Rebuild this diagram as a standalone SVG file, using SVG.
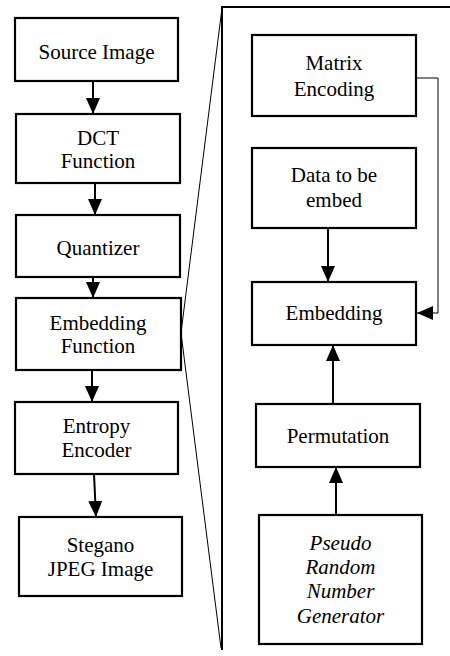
<svg xmlns="http://www.w3.org/2000/svg" width="450" height="656" viewBox="0 0 450 656">
<style>
.box{fill:#fff;stroke:#000;stroke-width:2.2}
.t{font-family:"Liberation Serif","Times New Roman","DejaVu Serif",serif;font-size:21px;fill:#000;text-anchor:middle}
.i{font-style:italic}
.c{fill:none;stroke:#000;stroke-width:2}
.thin{fill:none;stroke:#000;stroke-width:1}
</style>
<defs>
<marker id="ah" markerUnits="userSpaceOnUse" markerWidth="16" markerHeight="16" viewBox="0 0 16 14" refX="16" refY="7" orient="auto">
<path d="M0,0 L16,7 L0,14 Z" fill="#000"/>
</marker>
</defs>
<g id="frame">
<path class="thin" d="M450,7 L222,7 L222,650" style="stroke-width:2"/>
<path class="thin" d="M222,8 L181,333 L221,648"/>
</g>
<g id="connectors">
<line class="c" x1="93" y1="81" x2="93" y2="114" marker-end="url(#ah)"/>
<line class="c" x1="95" y1="183" x2="95" y2="215" marker-end="url(#ah)"/>
<line class="c" x1="93" y1="277" x2="93" y2="298" marker-end="url(#ah)"/>
<line class="c" x1="92" y1="370" x2="92" y2="402" marker-end="url(#ah)"/>
<line class="c" x1="94" y1="474" x2="96" y2="517" marker-end="url(#ah)"/>
<line class="c" x1="328" y1="228" x2="328" y2="282" marker-end="url(#ah)"/>
<line class="c" x1="333" y1="404" x2="333" y2="345" marker-end="url(#ah)"/>
<line class="c" x1="336" y1="515" x2="336" y2="467" marker-end="url(#ah)"/>
<polyline class="thin" points="416,78 438,78 438,313 417,313" marker-end="url(#ah)"/>
</g>
<g id="source-image">
<rect class="box" x="15" y="18" width="163" height="63"/>
<text class="t" x="96.5" y="59">Source Image</text>
</g>
<g id="dct-function">
<rect class="box" x="16" y="114" width="164" height="69"/>
<text class="t" x="98" y="145">DCT</text>
<text class="t" x="98" y="168">Function</text>
</g>
<g id="quantizer">
<rect class="box" x="16" y="215" width="164" height="62"/>
<text class="t" x="98" y="255">Quantizer</text>
</g>
<g id="embedding-function">
<rect class="box" x="16" y="298" width="165" height="72"/>
<text class="t" x="98" y="330">Embedding</text>
<text class="t" x="98" y="353">Function</text>
</g>
<g id="entropy-encoder">
<rect class="box" x="15" y="402" width="163" height="72"/>
<text class="t" x="96.5" y="433">Entropy</text>
<text class="t" x="96.5" y="457">Encoder</text>
</g>
<g id="stegano-jpeg">
<rect class="box" x="19" y="517" width="163" height="79"/>
<text class="t" x="100.5" y="552">Stegano</text>
<text class="t" x="100.5" y="576">JPEG Image</text>
</g>
<g id="matrix-encoding">
<rect class="box" x="252" y="35" width="164" height="81"/>
<text class="t" x="334" y="70">Matrix</text>
<text class="t" x="334" y="96">Encoding</text>
</g>
<g id="data-to-embed">
<rect class="box" x="252" y="148" width="164" height="80"/>
<text class="t" x="334" y="182">Data to be</text>
<text class="t" x="334" y="207">embed</text>
</g>
<g id="embedding">
<rect class="box" x="252" y="282" width="164" height="63"/>
<text class="t" x="334" y="320">Embedding</text>
</g>
<g id="permutation">
<rect class="box" x="256" y="404" width="164" height="63"/>
<text class="t" x="338" y="443">Permutation</text>
</g>
<g id="prng">
<rect class="box" x="259" y="515" width="163" height="129"/>
<text class="t i" x="340.5" y="550">Pseudo</text>
<text class="t i" x="340.5" y="574">Random</text>
<text class="t i" x="340.5" y="598">Number</text>
<text class="t i" x="340.5" y="623">Generator</text>
</g>
</svg>
